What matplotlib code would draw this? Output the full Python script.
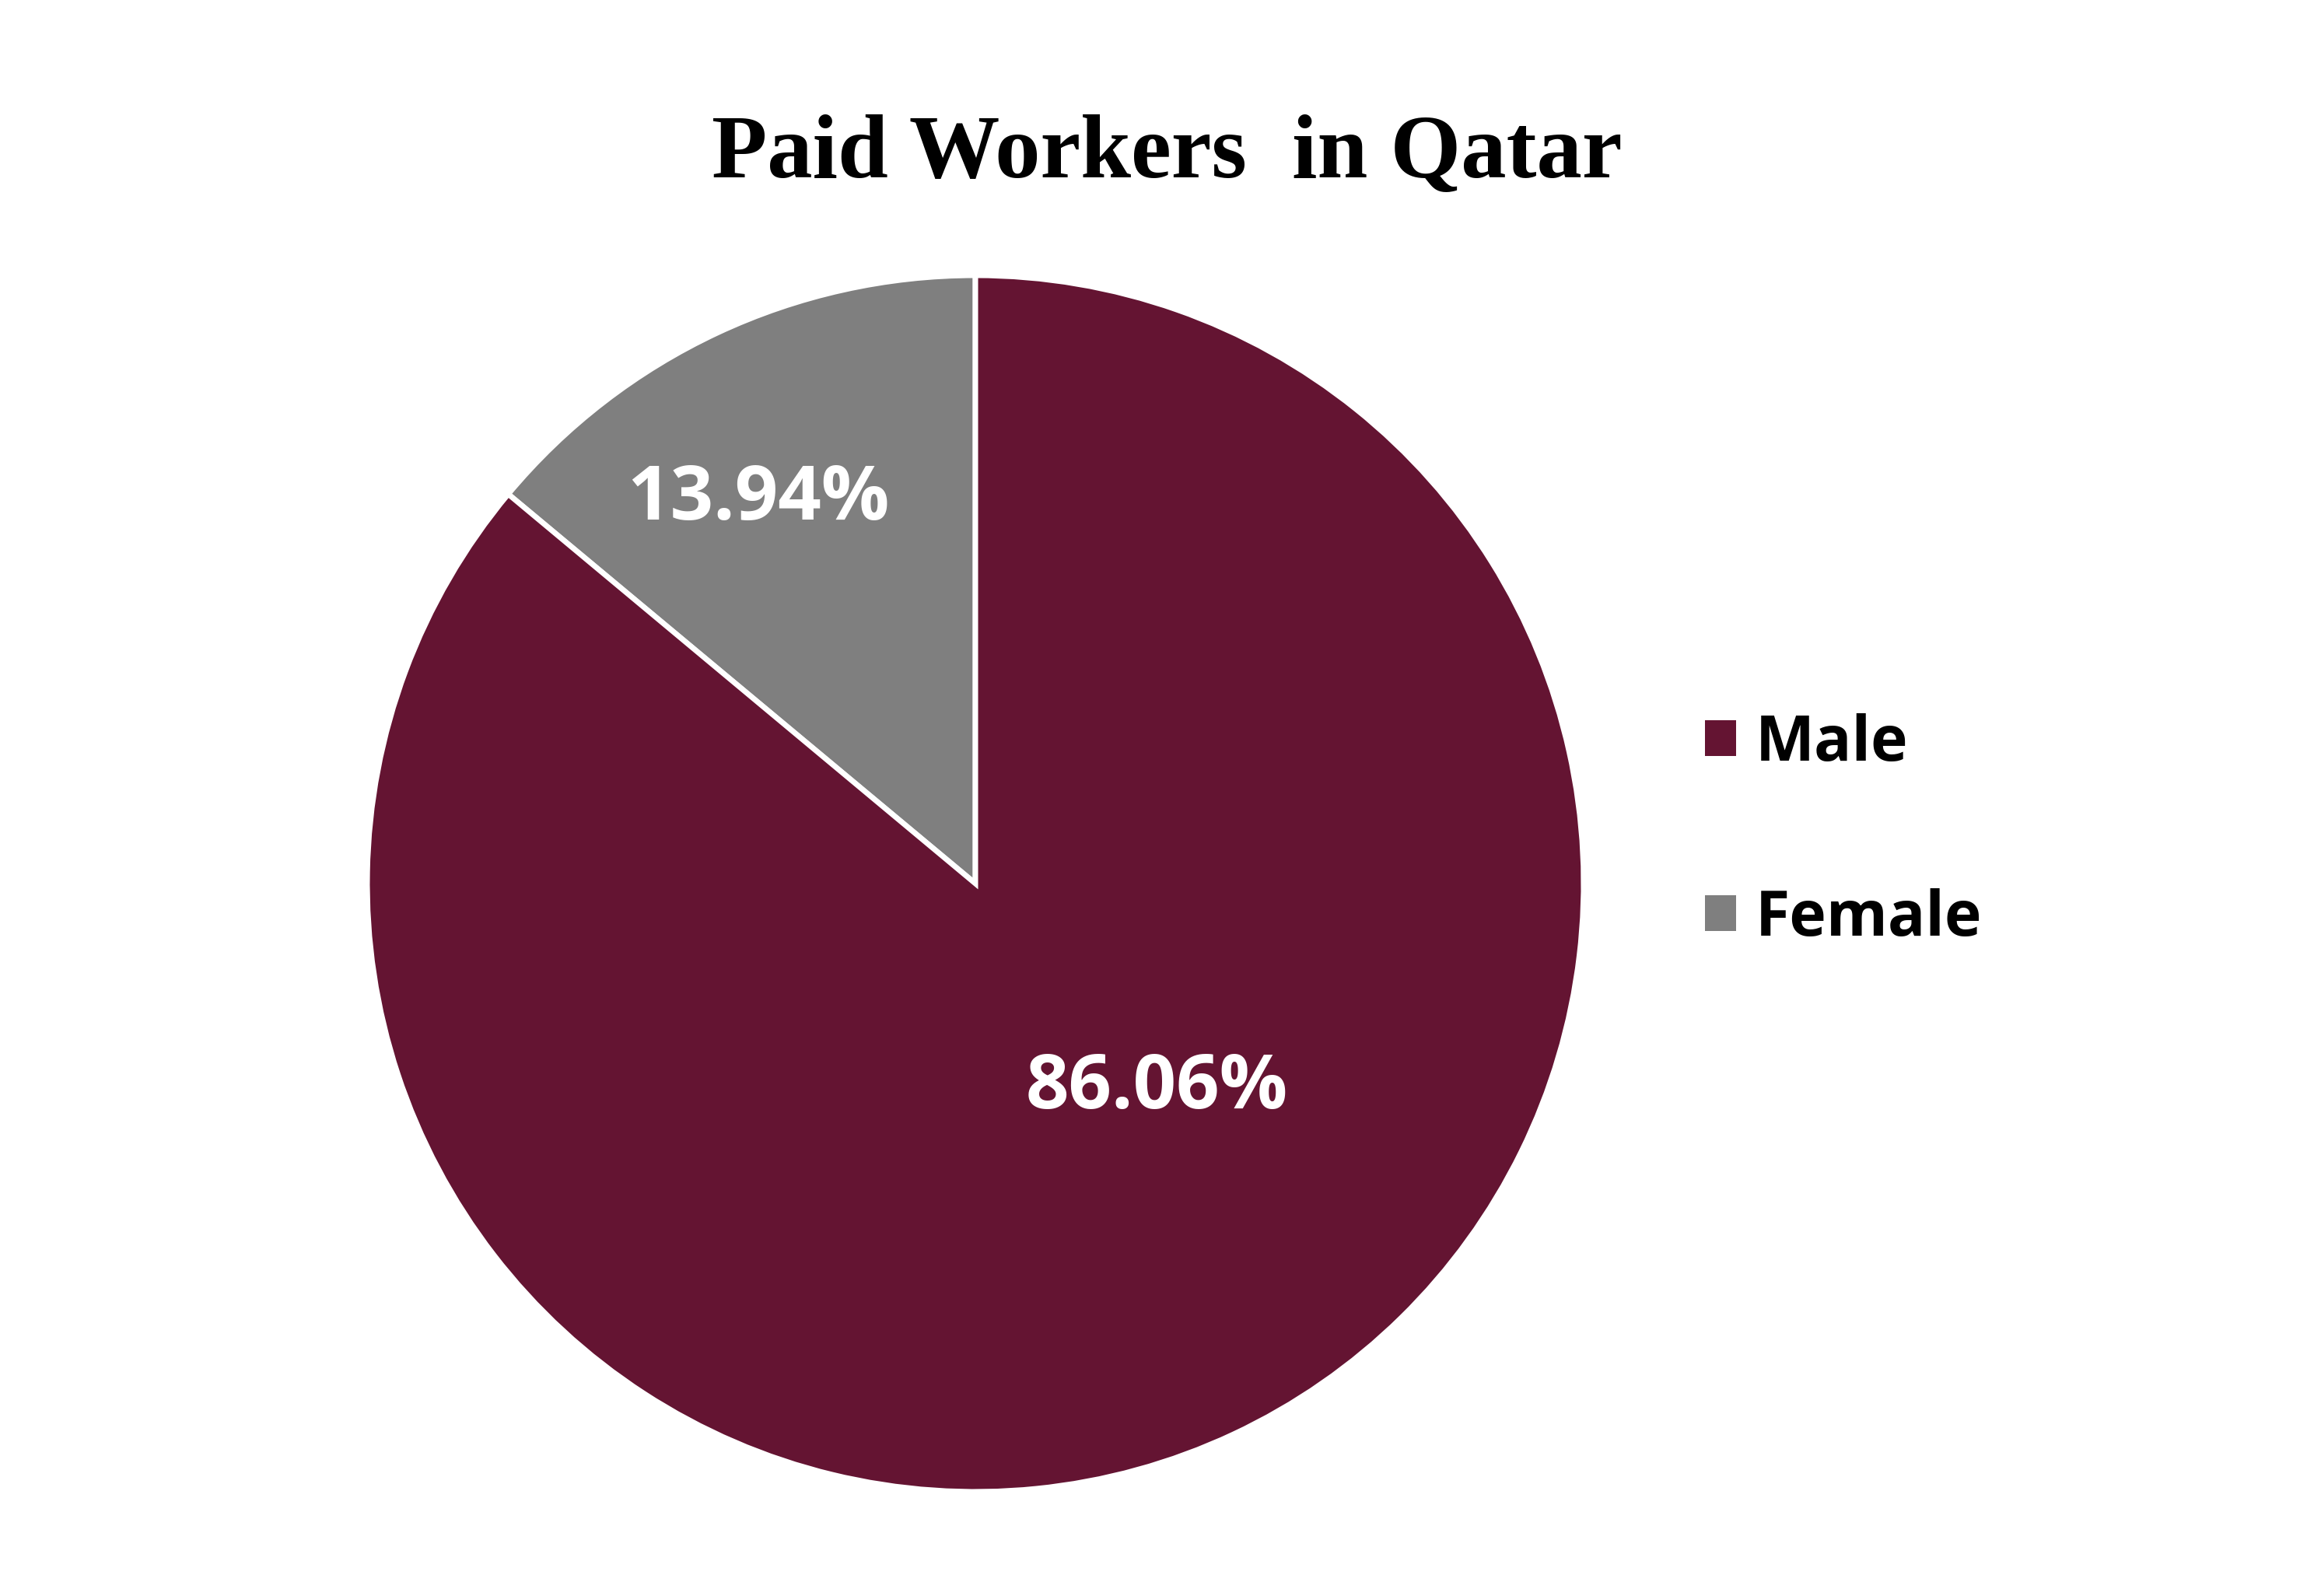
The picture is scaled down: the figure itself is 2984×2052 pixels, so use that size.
import matplotlib.pyplot as plt
import numpy as np
from matplotlib.patches import Patch

# data
labels = ["Male", "Female"]
shares = [86.06, 13.94]
colors = ["#641432", "#7f7f7f"]

# label placement (angle in degrees, radius as fraction of pie)
label_polar = {"Male": (-48.4, 0.45), "Female": (119.5, 0.725)}

fig = plt.figure(figsize=(14.92, 10.26), dpi=200)
ax = fig.add_axes([0.1582, 0.0653, 0.5241, 0.7622])

# draw female first so it sits counter-clockwise from 12 o'clock
order = [1, 0]
wedges, texts, autotexts = ax.pie(
    [shares[i] for i in order],
    colors=[colors[i] for i in order],
    startangle=90,
    counterclock=True,
    autopct="%.2f%%",
    pctdistance=0.7,
    wedgeprops=dict(edgecolor="white", linewidth=2.5),
    textprops=dict(color="white", fontsize=35, fontweight="bold", family="Open Sans"),
)

for i, t in zip(order, autotexts):
    ang, r = label_polar[labels[i]]
    t.set_position((r * np.cos(np.radians(ang)), r * np.sin(np.radians(ang))))
    t.set_text(f"{shares[i]:.2f}%")

ax.set_xlim(-1, 1)
ax.set_ylim(-1, 1)
ax.set_aspect("equal")
ax.axis("off")

fig.text(0.5027, 0.889, "Paid Workers  in Qatar", ha="center", va="baseline",
         fontsize=42, fontweight="bold", family="Liberation Serif")

handles = [Patch(facecolor=c, edgecolor="none") for c in colors]
fig.legend(handles, labels, loc="center left", bbox_to_anchor=(0.7346, 0.479),
           frameon=False, borderpad=0, borderaxespad=0,
           handlelength=0.5, handleheight=0.5, handletextpad=0.3,
           labelspacing=1.8,
           prop=dict(family="Open Sans", weight="bold", size=29))

fig.savefig("out.png", dpi=200, facecolor="white")
